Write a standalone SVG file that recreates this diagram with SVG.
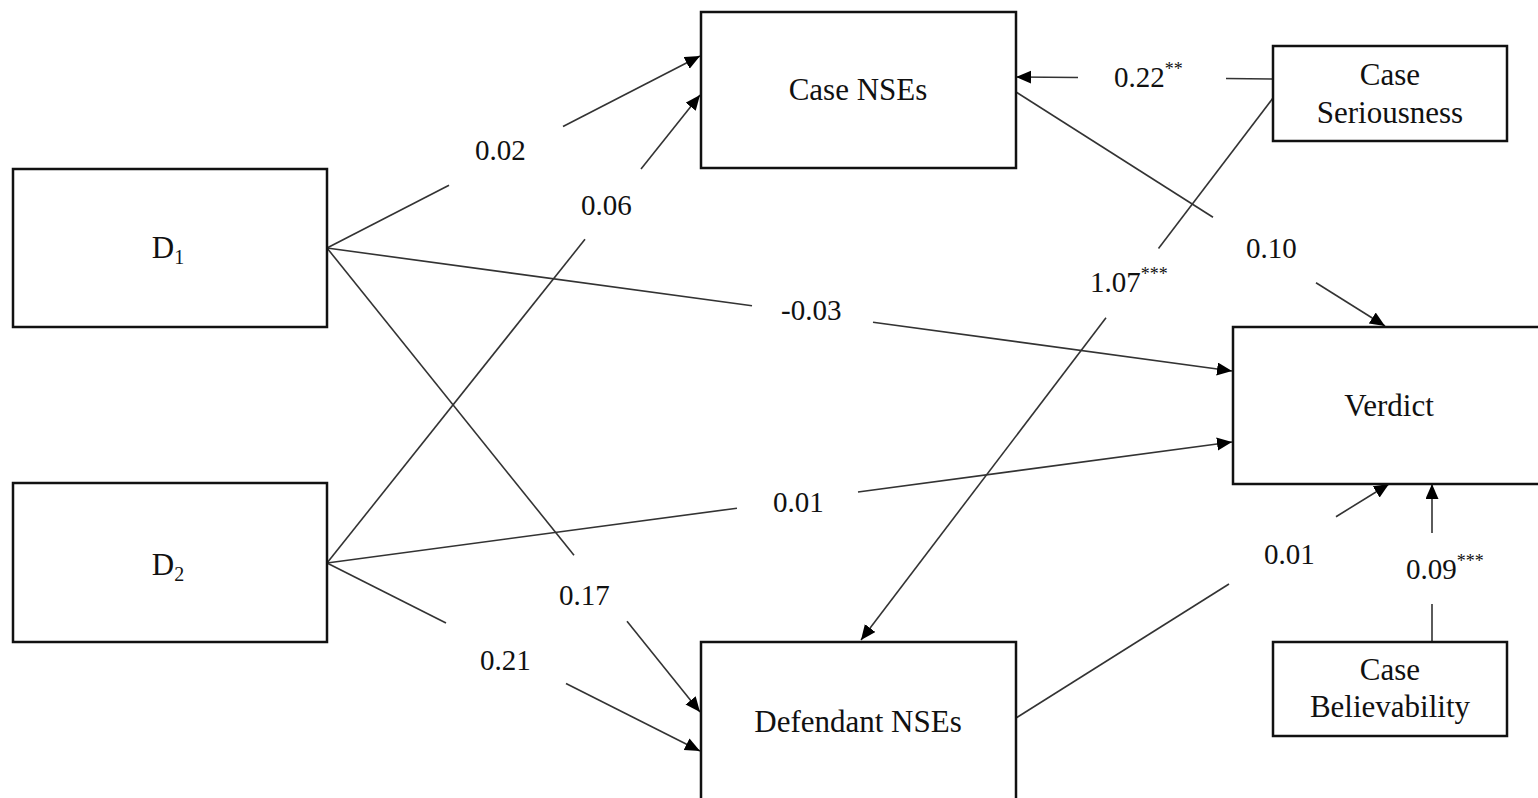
<svg xmlns="http://www.w3.org/2000/svg" width="1538" height="798" viewBox="0 0 1538 798">
<style>
.box{fill:#fff;stroke:#111;stroke-width:2.5}
.t{font-family:"Liberation Serif","Times New Roman",serif;font-size:31px;fill:#111;text-anchor:middle}
.l{font-family:"Liberation Serif","Times New Roman",serif;font-size:29px;fill:#111}
.c{stroke:#333;stroke-width:1.6;fill:none}
.a{marker-end:url(#ah)}
</style>
<defs>
<marker id="ah" markerUnits="userSpaceOnUse" markerWidth="16" markerHeight="14" refX="15" refY="6.5" orient="auto">
<path d="M0,0 L15,6.5 L0,13 z" fill="#000"/>
</marker>
</defs>
<rect width="1538" height="798" fill="#fff"/>
<g id="connectors">
<line class="c" x1="327" y1="248" x2="449" y2="185.2"/>
<line class="c a" x1="563" y1="126.5" x2="700" y2="56"/>
<line class="c" x1="327" y1="563" x2="585" y2="239.3"/>
<line class="c a" x1="641" y1="169" x2="700" y2="95"/>
<line class="c" x1="327" y1="248" x2="752" y2="305.8"/>
<line class="c a" x1="873" y1="322.2" x2="1232" y2="371"/>
<line class="c" x1="327" y1="563" x2="737" y2="508.2"/>
<line class="c a" x1="858" y1="492" x2="1232" y2="442"/>
<line class="c" x1="327" y1="248" x2="574" y2="555.3"/>
<line class="c a" x1="627" y1="621.2" x2="700" y2="712"/>
<line class="c" x1="327" y1="563" x2="446" y2="623"/>
<line class="c a" x1="566" y1="683.5" x2="700" y2="751"/>
<line class="c" x1="1273" y1="79" x2="1226" y2="78.5"/>
<line class="c a" x1="1078" y1="77.5" x2="1016" y2="77"/>
<line class="c" x1="1273" y1="98" x2="1158.5" y2="248.6"/>
<line class="c a" x1="1106" y1="317.7" x2="861" y2="640"/>
<line class="c" x1="1016" y1="92" x2="1213" y2="217.3"/>
<line class="c a" x1="1316" y1="282.8" x2="1385" y2="326"/>
<line class="c" x1="1016" y1="718" x2="1229" y2="584"/>
<line class="c a" x1="1336" y1="516.7" x2="1389" y2="484"/>
<line class="c" x1="1432" y1="642" x2="1432" y2="604"/>
<line class="c a" x1="1432" y1="533" x2="1432" y2="484"/>
</g>
<g id="labels">
<text class="l" x="475" y="160">0.02</text>
<text class="l" x="581" y="215">0.06</text>
<text class="l" x="781" y="320">-0.03</text>
<text class="l" x="773" y="512">0.01</text>
<text class="l" x="559" y="605">0.17</text>
<text class="l" x="480" y="670">0.21</text>
<text class="l" x="1114" y="87">0.22<tspan font-size="18" dy="-12">**</tspan></text>
<text class="l" x="1090" y="292">1.07<tspan font-size="18" dy="-12">***</tspan></text>
<text class="l" x="1246" y="258">0.10</text>
<text class="l" x="1264" y="564">0.01</text>
<text class="l" x="1406" y="579">0.09<tspan font-size="18" dy="-12">***</tspan></text>
</g>
<g id="d1">
<rect class="box" x="13" y="169" width="314" height="158"/>
<text class="t" x="168" y="258">D<tspan font-size="20" dy="6">1</tspan></text>
</g>
<g id="d2">
<rect class="box" x="13" y="483" width="314" height="159"/>
<text class="t" x="168" y="575">D<tspan font-size="20" dy="6">2</tspan></text>
</g>
<g id="case-nses">
<rect class="box" x="701" y="12" width="315" height="156"/>
<text class="t" x="858" y="100">Case NSEs</text>
</g>
<g id="defendant-nses">
<rect class="box" x="701" y="642" width="315" height="170"/>
<text class="t" x="858" y="732">Defendant NSEs</text>
</g>
<g id="case-seriousness">
<rect class="box" x="1273" y="46" width="234" height="95"/>
<text class="t" x="1390" y="85">Case</text>
<text class="t" x="1390" y="123">Seriousness</text>
</g>
<g id="case-believability">
<rect class="box" x="1273" y="642" width="234" height="94"/>
<text class="t" x="1390" y="680">Case</text>
<text class="t" x="1390" y="717">Believability</text>
</g>
<g id="verdict">
<rect class="box" x="1233" y="327" width="320" height="157"/>
<text class="t" x="1389" y="416">Verdict</text>
</g>
</svg>
